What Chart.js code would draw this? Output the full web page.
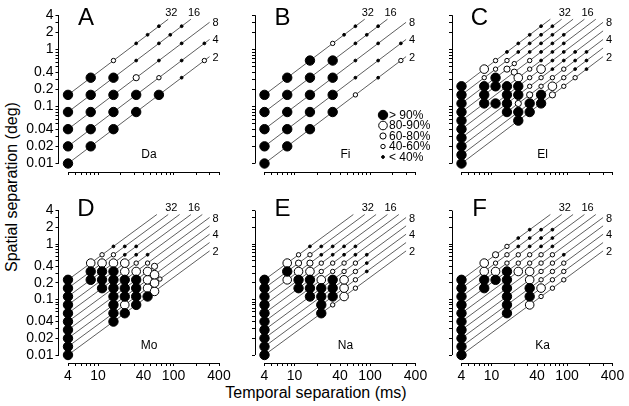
<!DOCTYPE html>
<html lang="en">
<head>
  <meta charset="UTF-8" />
  <title>Spatial vs temporal separation</title>
  <script src="https://cdn.jsdelivr.net/npm/chart.js@4"></script>
  <style>
    html, body {
      margin: 0;
      padding: 0;
      background: #ffffff;
      width: 629px;
      height: 406px;
      overflow: hidden;
      font-family: "Liberation Sans", Arial, sans-serif;
    }
    #fig { position: relative; width: 629px; height: 406px; }
    #fig canvas { position: absolute; }
    .axis-title { position: absolute; font-size: 16px; color: #000; white-space: nowrap; }
    #ytitle { left: 12px; top: 187px; transform: translate(-50%, -50%) rotate(-90deg); }
    #xtitle { left: 316px; top: 393px; transform: translate(-50%, -50%); }
  </style>
</head>
<body>
  <div id="fig">
    <div class="axis-title" id="ytitle">Spatial separation (deg)</div>
    <div class="axis-title" id="xtitle">Temporal separation (ms)</div>
  </div>

  <script>
    // ---- data ----
    // speed lines, half-octave steps (deg/s); labelled every octave
    const lineSpeeds = [2.5, 3.54, 5, 7.07, 10, 14.14, 20, 28.28, 40, 56.57];
    const lineNames = ['2', '', '4', '', '8', '', '16', '', '32', ''];
    const linesAB = [0, 2, 4, 6, 8];
    const linesCF = [0, 1, 2, 3, 4, 5, 6, 7, 8, 9];
    const lineEndTime = 300;   // ms
    const lineTopDeg = 3.4;    // deg

    const xTickMarks = [4, 5, 6, 7, 8, 9, 10, 20, 30, 40, 50, 60, 70, 80, 90, 100, 200, 300, 400];
    const xTickLabels = [4, 10, 40, 100, 400];
    const yTickMarks = [0.01, 0.02, 0.03, 0.04, 0.05, 0.06, 0.07, 0.08, 0.09,
                        0.1, 0.2, 0.3, 0.4, 0.5, 0.6, 0.7, 0.8, 0.9, 1, 2, 3, 4];
    const yTickLabels = [0.01, 0.02, 0.04, 0.1, 0.2, 0.4, 1, 2, 4];

    // grades: 4 = >90%, 3 = 80-90%, 2 = 60-80%, 1 = 40-60%, 0 = <40%
    const legendLabels = ['> 90%', '80-90%', '60-80%', '40-60%', '< 40%'];
    const legendGrades = [4, 3, 2, 1, 0];

    // points: [temporal separation (ms), speed line, grade]
    const pointsA = [
      [4, 0, 4], [4, 2, 4], [4, 4, 4], [4, 6, 4], [4, 8, 4],
      [8, 0, 4], [8, 2, 4], [8, 4, 4], [8, 6, 4], [8, 8, 4],
      [16, 0, 4], [16, 2, 4], [16, 4, 4], [16, 6, 4], [16, 8, 1],
      [32, 0, 4], [32, 2, 4], [32, 4, 2], [32, 6, 0], [32, 8, 0],
      [45.3, 8, 0],
      [64, 0, 4], [64, 2, 1], [64, 4, 0], [64, 6, 0], [64, 8, 0],
      [90.5, 6, 0],
      [128, 0, 0], [128, 2, 0], [128, 4, 0], [128, 6, 0],
      [256, 0, 1], [256, 2, 0]
    ];
    const pointsB = [
      [4, 0, 4], [4, 2, 4], [4, 4, 4], [4, 6, 4], [4, 8, 4],
      [8, 0, 4], [8, 2, 4], [8, 4, 4], [8, 6, 4], [8, 8, 4],
      [16, 0, 4], [16, 2, 4], [16, 4, 4], [16, 6, 4], [16, 8, 4],
      [32, 0, 4], [32, 2, 4], [32, 4, 4], [32, 6, 4], [32, 8, 1],
      [45.3, 8, 0],
      [64, 0, 1], [64, 2, 0], [64, 4, 0], [64, 6, 0], [64, 8, 0],
      [90.5, 6, 0],
      [128, 0, 0], [128, 2, 0], [128, 4, 0], [128, 6, 0],
      [256, 0, 1], [256, 2, 0]
    ];
    const pointsC = [
      [4, 0, 4], [4, 1, 4], [4, 2, 4], [4, 3, 4], [4, 4, 4], [4, 5, 4], [4, 6, 4], [4, 7, 4], [4, 8, 4], [4, 9, 4],
      [8, 5, 4], [8, 6, 4], [8, 7, 4], [8, 8, 1], [8, 9, 3],
      [11.3, 4, 4], [11.3, 6, 4], [11.3, 7, 4], [11.3, 8, 1], [11.3, 9, 1],
      [16, 2, 4], [16, 3, 4], [16, 4, 4], [16, 5, 4], [16, 7, 2], [16, 8, 1], [16, 9, 0],
      [20, 6, 2], [20, 7, 1],
      [22.6, 0, 4], [22.6, 1, 4], [22.6, 2, 2], [22.6, 3, 4], [22.6, 4, 4], [22.6, 5, 3], [22.6, 8, 0], [22.6, 9, 0],
      [32, 0, 4], [32, 1, 4], [32, 2, 2], [32, 3, 1], [32, 4, 1], [32, 5, 1], [32, 6, 1], [32, 7, 0], [32, 8, 0], [32, 9, 0],
      [45.3, 0, 4], [45.3, 1, 4], [45.3, 2, 1], [45.3, 3, 1], [45.3, 4, 3], [45.3, 5, 0], [45.3, 6, 0], [45.3, 7, 0], [45.3, 8, 0], [45.3, 9, 0],
      [64, 0, 2], [64, 1, 3], [64, 2, 1], [64, 3, 0], [64, 4, 0], [64, 5, 0], [64, 6, 0], [64, 7, 0], [64, 8, 0],
      [90.5, 0, 1], [90.5, 1, 1], [90.5, 2, 1], [90.5, 3, 0], [90.5, 4, 0], [90.5, 5, 0], [90.5, 6, 0],
      [128, 0, 1], [128, 1, 0], [128, 2, 0], [128, 3, 0],
      [181, 0, 0], [181, 1, 0], [181, 2, 0]
    ];
    const pointsD = [
      [4, 0, 4], [4, 1, 4], [4, 2, 4], [4, 3, 4], [4, 4, 4], [4, 5, 4], [4, 6, 4], [4, 7, 4], [4, 8, 4], [4, 9, 4],
      [8, 7, 4], [8, 8, 4], [8, 9, 3],
      [11.3, 5, 4], [11.3, 6, 4], [11.3, 7, 4], [11.3, 8, 3], [11.3, 9, 1],
      [16, 0, 4], [16, 1, 4], [16, 2, 4], [16, 3, 4], [16, 4, 4], [16, 5, 4], [16, 6, 4], [16, 7, 3], [16, 8, 1], [16, 9, 0],
      [22.6, 0, 4], [22.6, 1, 3], [22.6, 2, 4], [22.6, 3, 4], [22.6, 4, 4], [22.6, 5, 3], [22.6, 6, 3], [22.6, 7, 0], [22.6, 8, 0],
      [32, 0, 4], [32, 1, 4], [32, 2, 4], [32, 3, 4], [32, 4, 3], [32, 5, 1], [32, 6, 0], [32, 7, 0],
      [45.3, 0, 4], [45.3, 1, 3], [45.3, 2, 3], [45.3, 3, 3], [45.3, 4, 1], [45.3, 5, 0],
      [56, 0, 3], [56, 1, 3], [56, 2, 3], [56, 3, 2],
      [66, 1, 1]
    ];
    const pointsE = [
      [4, 0, 4], [4, 1, 4], [4, 2, 4], [4, 3, 4], [4, 4, 4], [4, 5, 4], [4, 6, 4], [4, 7, 4], [4, 8, 4], [4, 9, 4],
      [8, 7, 3], [8, 8, 4], [8, 9, 3],
      [11.3, 5, 4], [11.3, 6, 4], [11.3, 7, 3], [11.3, 8, 2], [11.3, 9, 1],
      [16, 3, 4], [16, 4, 4], [16, 5, 4], [16, 6, 3], [16, 7, 2], [16, 8, 1], [16, 9, 0],
      [22.6, 0, 4], [22.6, 1, 4], [22.6, 2, 4], [22.6, 3, 4], [22.6, 4, 3], [22.6, 5, 1], [22.6, 6, 1], [22.6, 7, 0], [22.6, 8, 0],
      [32, 0, 1], [32, 1, 4], [32, 2, 4], [32, 3, 4], [32, 4, 1], [32, 5, 1], [32, 6, 0], [32, 7, 0],
      [45.3, 0, 3], [45.3, 1, 3], [45.3, 2, 3], [45.3, 3, 1], [45.3, 4, 1], [45.3, 5, 0], [45.3, 6, 0],
      [64, 0, 1], [64, 1, 1], [64, 2, 1], [64, 3, 1], [64, 4, 0], [64, 5, 0],
      [90.5, 1, 0], [90.5, 2, 0], [90.5, 3, 0]
    ];
    const pointsF = [
      [4, 0, 4], [4, 1, 4], [4, 2, 4], [4, 3, 4], [4, 4, 4], [4, 5, 4], [4, 6, 4], [4, 7, 4], [4, 8, 4], [4, 9, 4],
      [8, 6, 4], [8, 7, 4], [8, 8, 3], [8, 9, 3],
      [11.3, 6, 4], [11.3, 7, 3], [11.3, 8, 1], [11.3, 9, 2],
      [16, 1, 4], [16, 2, 4], [16, 3, 4], [16, 4, 4], [16, 5, 4], [16, 6, 4], [16, 7, 1], [16, 8, 1], [16, 9, 1],
      [22.6, 5, 3], [22.6, 6, 1], [22.6, 7, 1], [22.6, 8, 0], [22.6, 9, 0],
      [32, 0, 3], [32, 1, 4], [32, 2, 4], [32, 3, 3], [32, 4, 3], [32, 5, 1], [32, 6, 1], [32, 7, 0], [32, 8, 0], [32, 9, 0],
      [45.3, 0, 1], [45.3, 1, 3], [45.3, 2, 1], [45.3, 3, 1], [45.3, 4, 1], [45.3, 5, 1], [45.3, 6, 0], [45.3, 7, 0], [45.3, 8, 0],
      [64, 0, 1], [64, 1, 1], [64, 2, 1], [64, 3, 1], [64, 4, 1], [64, 5, 0], [64, 6, 0], [64, 7, 0],
      [90.5, 0, 1], [90.5, 1, 1], [90.5, 2, 1], [90.5, 3, 0]
    ];

    const panels = [
      { letter: 'A', name: 'Da', col: 0, row: 0, lines: linesAB, points: pointsA },
      { letter: 'B', name: 'Fi', col: 1, row: 0, lines: linesAB, points: pointsB, legend: true },
      { letter: 'C', name: 'El', col: 2, row: 0, lines: linesCF, points: pointsC },
      { letter: 'D', name: 'Mo', col: 0, row: 1, lines: linesCF, points: pointsD },
      { letter: 'E', name: 'Na', col: 1, row: 1, lines: linesCF, points: pointsE },
      { letter: 'F', name: 'Ka', col: 2, row: 1, lines: linesCF, points: pointsF }
    ];

    // ---- layout (page pixels) ----
    const colX4 = [68, 264.5, 461.5];     // x of 4 ms
    const xDec = 75.5;                    // px per decade (time)
    const axisGap = 9.5;                  // y axis sits left of the 4 ms column
    const rowY001 = [163.5, 355];         // y of 0.01 deg
    const rowDec = [57, 55.5];            // px per decade (space)
    const rowAxisY = [172, 363];          // x axis line
    const rowLetterY = [18, 209];
    const rowNameY = [155, 346];
    const yAxisW = 42, xAxisH = 24, padTop = 22, padRight = 14;

    const FONT = '"Liberation Sans", Arial, sans-serif';
    Chart.defaults.font.family = FONT;
    Chart.defaults.color = '#000';

    // marker style per grade
    const gradeStyle = [
      { r: 1.4, fill: '#000' },
      { r: 2.2, fill: '#fff' },
      { r: 3.1, fill: '#fff' },
      { r: 4.3, fill: '#fff' },
      { r: 4.7, fill: '#000' }
    ];

    function drawMarker(ctx, x, y, g) {
      const st = gradeStyle[g];
      ctx.beginPath();
      ctx.arc(x, y, st.r, 0, Math.PI * 2);
      ctx.fillStyle = st.fill;
      ctx.fill();
      ctx.lineWidth = 1;
      ctx.strokeStyle = '#000';
      ctx.stroke();
    }

    // axis lines, line labels, panel letter, subject name, legend
    const panelDecor = {
      id: 'panelDecor',
      afterDatasetsDraw(chart, args, opts) {
        const ctx = chart.ctx;
        const xs = chart.scales.x, ys = chart.scales.y;
        const area = chart.chartArea;
        ctx.save();
        ctx.strokeStyle = '#000';
        ctx.lineWidth = 1;
        const by = Math.floor(area.bottom) + 0.5;
        ctx.beginPath();
        ctx.moveTo(xs.getPixelForValue(4), by);
        ctx.lineTo(xs.getPixelForValue(400), by);
        const lx = Math.floor(area.left) + 0.5;
        ctx.moveTo(lx, ys.getPixelForValue(0.01));
        ctx.lineTo(lx, ys.getPixelForValue(4));
        ctx.stroke();

        ctx.fillStyle = '#000';
        ctx.font = '11px ' + FONT;
        chart.data.datasets.forEach(ds => {
          if (!ds.lineLabel) return;
          const end = ds.data[1];
          const px = xs.getPixelForValue(end.x), py = ys.getPixelForValue(end.y);
          ctx.textAlign = 'left';
          if (ds.hitTop) {
            ctx.textBaseline = 'bottom';
            ctx.fillText(ds.lineLabel, px - 3, py - 1);
          } else {
            ctx.textBaseline = 'middle';
            ctx.fillText(ds.lineLabel, px + 3, py + 1);
          }
        });

        const ox = opts.offX, oy = opts.offY;
        ctx.textAlign = 'center';
        ctx.textBaseline = 'middle';
        ctx.font = '24px ' + FONT;
        ctx.fillText(opts.letter, opts.letterX - ox, opts.letterY - oy);
        ctx.font = '12px ' + FONT;
        ctx.fillText(opts.name, opts.nameX - ox, opts.nameY - oy);

        if (opts.legend) {
          ctx.font = '12px ' + FONT;
          ctx.textAlign = 'left';
          legendGrades.forEach((g, i) => {
            const y = 115 + i * 10.5 - oy;
            drawMarker(ctx, 383 - ox, y, g);
            ctx.fillStyle = '#000';
            ctx.fillText(legendLabels[i], 389 - ox, y + 0.5);
          });
        }
        ctx.restore();
      }
    };

    const fig = document.getElementById('fig');

    panels.forEach(p => {
      const r = p.row, c = p.col;
      const x4 = colX4[c];
      const chartLeft = x4 - axisGap;
      const chartRight = x4 + 2 * xDec;
      const chartTop = rowY001[r] - rowDec[r] * Math.log10(400);
      const chartBottom = rowAxisY[r];

      const canvasLeft = Math.floor(chartLeft - yAxisW);
      const canvasTop = Math.floor(chartTop - padTop);
      const W = Math.ceil(chartRight + padRight - canvasLeft);
      const H = Math.ceil(chartBottom + xAxisH - canvasTop);

      const xMin = 4 * Math.pow(10, -axisGap / xDec);
      const yMin = 0.01 * Math.pow(10, -(rowAxisY[r] - rowY001[r]) / rowDec[r]);

      const canvas = document.createElement('canvas');
      canvas.width = W;
      canvas.height = H;
      canvas.style.left = canvasLeft + 'px';
      canvas.style.top = canvasTop + 'px';
      fig.appendChild(canvas);

      const datasets = [];
      [4, 3, 2, 1, 0].forEach(g => {
        datasets.push({
          data: p.points.filter(q => q[2] === g)
                        .map(q => ({ x: q[0], y: lineSpeeds[q[1]] * q[0] / 1000 })),
          pointStyle: 'circle',
          pointRadius: gradeStyle[g].r,
          pointBackgroundColor: gradeStyle[g].fill,
          pointBorderColor: '#000',
          pointBorderWidth: 1,
          clip: false,
          order: 0
        });
      });
      p.lines.forEach(li => {
        const v = lineSpeeds[li];
        const tEnd = Math.min(lineEndTime, lineTopDeg * 1000 / v);
        datasets.push({
          data: [{ x: 4, y: v * 4 / 1000 }, { x: tEnd, y: v * tEnd / 1000 }],
          showLine: true,
          borderColor: 'rgba(0,0,0,0.8)',
          borderWidth: 0.8,
          pointRadius: 0,
          clip: false,
          order: 1,
          lineLabel: lineNames[li],
          hitTop: tEnd < lineEndTime
        });
      });

      new Chart(canvas.getContext('2d'), {
        type: 'scatter',
        data: { datasets },
        options: {
          responsive: false,
          devicePixelRatio: 1,
          animation: false,
          events: [],
          layout: {
            padding: {
              left: chartLeft - yAxisW - canvasLeft,
              top: chartTop - canvasTop,
              right: W - (chartRight - canvasLeft),
              bottom: H - (chartBottom + xAxisH - canvasTop)
            }
          },
          plugins: {
            legend: { display: false },
            tooltip: { enabled: false },
            panelDecor: {
              offX: canvasLeft, offY: canvasTop,
              letter: p.letter, letterX: x4 + 18, letterY: rowLetterY[r],
              name: p.name, nameX: x4 + 81, nameY: rowNameY[r],
              legend: !!p.legend
            }
          },
          scales: {
            x: {
              type: 'logarithmic',
              bounds: 'data',
              min: xMin,
              max: 400,
              afterBuildTicks: s => { s.ticks = xTickMarks.map(v => ({ value: v })); },
              afterFit: s => { s.height = xAxisH; s.paddingLeft = 0; s.paddingRight = 0; },
              grid: { drawOnChartArea: false, drawTicks: true, tickLength: 3, color: '#000', lineWidth: 1 },
              border: { display: false },
              ticks: {
                autoSkip: false,
                maxRotation: 0,
                padding: 2,
                color: '#000',
                font: { size: 14 },
                callback: v => (r === 1 && xTickLabels.includes(v)) ? String(v) : ''
              }
            },
            y: {
              type: 'logarithmic',
              bounds: 'data',
              min: yMin,
              max: 4,
              afterBuildTicks: s => { s.ticks = yTickMarks.map(v => ({ value: v })); },
              afterFit: s => { s.width = yAxisW; s.paddingTop = 0; s.paddingBottom = 0; },
              grid: { drawOnChartArea: false, drawTicks: true, tickLength: 3, color: '#000', lineWidth: 1 },
              border: { display: false },
              ticks: {
                autoSkip: false,
                padding: 2,
                color: '#000',
                font: { size: 14 },
                callback: v => (c === 0 && yTickLabels.includes(v)) ? String(v) : ''
              }
            }
          }
        },
        plugins: [panelDecor]
      });
    });
  </script>
</body>
</html>
